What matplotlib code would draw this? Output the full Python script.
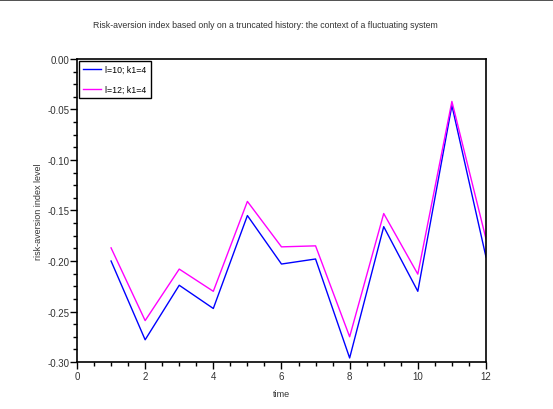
import matplotlib
matplotlib.use("Agg")
import matplotlib.pyplot as plt
from matplotlib.ticker import AutoMinorLocator, MultipleLocator, FormatStrFormatter
from matplotlib.patches import Rectangle

plt.rcParams['font.family'] = ['Liberation Sans', 'DejaVu Sans']

# valori
time = [1, 2, 3, 4, 5, 6, 7, 8, 9, 10, 11, 12]
risk_l10 = [-0.200, -0.278, -0.224, -0.247, -0.155, -0.203, -0.198,
            -0.296, -0.166, -0.230, -0.046, -0.196]
risk_l12 = [-0.187, -0.259, -0.208, -0.230, -0.141, -0.186, -0.185,
            -0.275, -0.153, -0.213, -0.042, -0.178]
labels = ["l=10; k1=4", "l=12; k1=4"]

fig = plt.figure(figsize=(5.53, 4.10), dpi=100)
ax = fig.add_axes([0.1392, 0.1146, 0.7396, 0.7391])

ax.plot(time, risk_l10, color='#0000ff', linewidth=1.0, label=labels[0])
ax.plot(time, risk_l12, color='#ff00ff', linewidth=1.0, label=labels[1])

ax.set_xlim(0, 12)
ax.set_ylim(-0.30, 0.00)
ax.xaxis.set_major_locator(MultipleLocator(2))
ax.yaxis.set_major_locator(MultipleLocator(0.05))
ax.xaxis.set_minor_locator(AutoMinorLocator(4))
ax.yaxis.set_minor_locator(AutoMinorLocator(4))
ax.yaxis.set_major_formatter(FormatStrFormatter('%.2f'))

ax.tick_params(which='both', direction='out', top=False, right=False,
               labelsize=7, colors='black', labelcolor='#333333', width=1)
ax.tick_params(which='major', length=5)
ax.tick_params(which='minor', length=3)
ax.tick_params(axis='y', which='major', pad=0.5)
ax.tick_params(axis='x', which='major', pad=1.5)
for s in ax.spines.values():
    s.set_linewidth(1.2)
    s.set_color('black')

ax.set_xlabel("time", fontsize=6.5, color='#333333', labelpad=6)
ax.set_ylabel("risk-aversion index level", fontsize=6.5, color='#333333', labelpad=3)
fig.text(0.4792, 0.937, "Risk-aversion index based only on a truncated history: the context of a fluctuating system",
         ha='center', va='center', fontsize=6.3, color='#333333')

leg = ax.legend(loc='upper left', fontsize=6.3, fancybox=False, framealpha=1,
                edgecolor='black', handlelength=2.0, handletextpad=0.5,
                borderaxespad=0.2, labelspacing=1.2, borderpad=0.5)
leg.get_frame().set_linewidth(1.0)

# bordo grigio in alto
fig.patches.append(Rectangle((0, 0.995), 1, 0.005, transform=fig.transFigure,
                             facecolor='#555555', edgecolor='none'))

fig.savefig("out.png", dpi=100)
